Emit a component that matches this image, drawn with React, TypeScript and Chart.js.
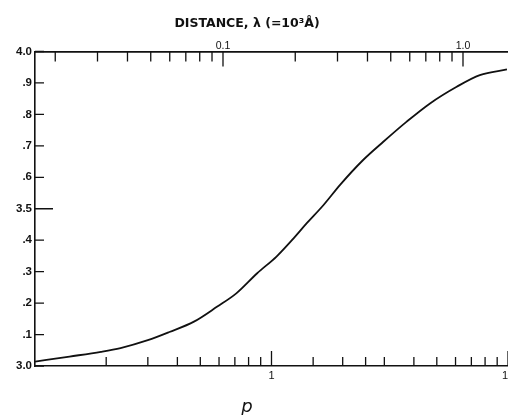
import React, { useEffect, useRef } from 'react';
import { Chart, registerables } from 'chart.js';

Chart.register(...registerables);

// ---- data ----
const pValues = [0.1, 0.14, 0.19, 0.23, 0.3, 0.37, 0.47, 0.59, 0.71, 0.87, 1.05, 1.24, 1.41, 1.66, 1.95, 2.44, 2.97, 3.73, 4.68, 6.07, 7.6, 9.9];
const curveValues = [3.014, 3.03, 3.045, 3.057, 3.082, 3.108, 3.141, 3.189, 3.231, 3.295, 3.348, 3.406, 3.454, 3.512, 3.576, 3.655, 3.713, 3.777, 3.835, 3.888, 3.925, 3.943];

const yTickValues = [3.0, 3.1, 3.2, 3.3, 3.4, 3.5, 3.6, 3.7, 3.8, 3.9, 4.0];
const yTickLabels = ['3.0', '.1', '.2', '.3', '.4', '3.5', '.6', '.7', '.8', '.9', '4.0'];
const yLongTicks = [3.5];

const pMinorTicks = [0.2, 0.3, 0.4, 0.5, 0.6, 0.7, 0.8, 0.9, 1.5, 2, 2.5, 3, 4, 5, 6, 7, 8, 9];
const pMajorTicks = [1, 10];
const pMajorLabels = ['1', '10'];

const lambdaMinorTicks = [0.02, 0.03, 0.04, 0.05, 0.06, 0.07, 0.08, 0.09, 0.2, 0.3, 0.4, 0.5, 0.6, 0.7, 0.8, 0.9];
const lambdaMajorTicks = [0.1, 1.0];
const lambdaMajorLabels = ['0.1', '1.0'];

const topTitle = 'DISTANCE, λ (=10³Å)';
const bottomTitle = 'p';

const INK = '#111';

const labelFor = (values: number[], labels: string[], v: number) => {
  for (let i = 0; i < values.length; i++) {
    if (Math.abs(values[i] - v) < 1e-9 * Math.max(1, Math.abs(v))) return labels[i];
  }
  return '';
};

const noPad = (s: any) => {
  s.paddingLeft = 0;
  s.paddingRight = 0;
  s.paddingTop = 0;
  s.paddingBottom = 0;
};

const innerTicks = {
  id: 'innerTicks',
  afterDraw(chart: any) {
    const { ctx, chartArea } = chart;
    const xs = chart.scales.x;
    const x2 = chart.scales.x2;
    const ys = chart.scales.y;
    ctx.save();
    ctx.strokeStyle = INK;
    ctx.lineWidth = 1.3;
    ctx.beginPath();
    yTickValues.forEach((v) => {
      const y = ys.getPixelForValue(v);
      const len = yLongTicks.includes(v) ? 18 : 9;
      ctx.moveTo(chartArea.left, y);
      ctx.lineTo(chartArea.left + len, y);
    });
    pMinorTicks.forEach((v) => {
      const x = xs.getPixelForValue(v);
      ctx.moveTo(x, chartArea.bottom);
      ctx.lineTo(x, chartArea.bottom - 9);
    });
    pMajorTicks.forEach((v) => {
      const x = xs.getPixelForValue(v);
      ctx.moveTo(x, chartArea.bottom);
      ctx.lineTo(x, chartArea.bottom - 15);
    });
    lambdaMinorTicks.forEach((v) => {
      const x = x2.getPixelForValue(v);
      ctx.moveTo(x, chartArea.top);
      ctx.lineTo(x, chartArea.top + 10);
    });
    lambdaMajorTicks.forEach((v) => {
      const x = x2.getPixelForValue(v);
      ctx.moveTo(x, chartArea.top);
      ctx.lineTo(x, chartArea.top + 15);
    });
    ctx.stroke();
    ctx.restore();
  },
};

export default function App() {
  const ref = useRef<HTMLCanvasElement | null>(null);

  useEffect(() => {
    if (!ref.current) return;
    const chart = new Chart(ref.current, {
      type: 'line',
      data: {
        datasets: [
          {
            data: pValues.map((p, i) => ({ x: p, y: curveValues[i] })),
            borderColor: INK,
            borderWidth: 1.8,
            pointRadius: 0,
            cubicInterpolationMode: 'monotone',
            fill: false,
            xAxisID: 'x',
            yAxisID: 'y',
          },
        ],
      },
      options: {
        animation: false,
        responsive: true,
        maintainAspectRatio: false,
        layout: { padding: 0, autoPadding: false } as any,
        plugins: {
          legend: { display: false },
          tooltip: { enabled: false },
          title: {
            display: true,
            text: topTitle,
            color: INK,
            font: { family: 'DejaVu Sans', size: 12.5, weight: 'bold' },
            padding: { top: 16, bottom: -1 },
          },
          subtitle: {
            display: true,
            position: 'bottom',
            text: bottomTitle,
            color: INK,
            font: { family: 'DejaVu Sans', size: 18, style: 'italic' },
            padding: { top: 3, bottom: -3 },
          },
        },
        scales: {
          x: {
            type: 'logarithmic',
            position: 'bottom',
            min: 0.1,
            max: 10,
            afterBuildTicks: (s: any) => {
              s.ticks = [...pMinorTicks, ...pMajorTicks].sort((a, b) => a - b).map((v) => ({ value: v }));
            },
            afterFit: (s: any) => {
              s.height = 415 - 21.6 - 366;
              noPad(s);
            },
            grid: { display: false, drawTicks: false },
            border: { display: true, color: INK, width: 1.6 },
            ticks: {
              autoSkip: false,
              maxRotation: 0,
              padding: 3,
              color: INK,
              font: { family: 'Liberation Sans', size: 11 },
              callback: (v: any) => labelFor(pMajorTicks, pMajorLabels, Number(v)),
            },
          },
          x2: {
            type: 'logarithmic',
            position: 'top',
            display: true,
            min: 0.01647,
            max: 1.54,
            afterBuildTicks: (s: any) => {
              s.ticks = [...lambdaMinorTicks, ...lambdaMajorTicks].sort((a, b) => a - b).map((v) => ({ value: v }));
            },
            afterFit: (s: any) => {
              s.height = 51.5 - 15 - 15;
              noPad(s);
            },
            grid: { display: false, drawTicks: false },
            border: { display: true, color: INK, width: 1.8 },
            ticks: {
              autoSkip: false,
              maxRotation: 0,
              padding: -1,
              color: INK,
              font: { family: 'Liberation Sans', size: 10.5 },
              callback: (v: any) => labelFor(lambdaMajorTicks, lambdaMajorLabels, Number(v)),
            },
          },
          y: {
            type: 'linear',
            min: 3.0,
            max: 4.0,
            afterBuildTicks: (s: any) => {
              s.ticks = yTickValues.map((v) => ({ value: v }));
            },
            afterFit: (s: any) => {
              s.width = 49;
              noPad(s);
            },
            grid: { display: false, drawTicks: false },
            border: { display: true, color: INK, width: 1.6 },
            ticks: {
              autoSkip: false,
              padding: 3,
              color: INK,
              font: { family: 'Liberation Sans', size: 11.5, weight: 'bold' },
              callback: (v: any) => labelFor(yTickValues, yTickLabels, Number(v)),
            },
          },
        },
      } as any,
      plugins: [innerTicks],
    });
    return () => chart.destroy();
  }, []);

  return (
    <div style={{ position: 'fixed', left: -14, top: 0, width: 522, height: 415, background: '#fff' }}>
      <canvas ref={ref} />
    </div>
  );
}
